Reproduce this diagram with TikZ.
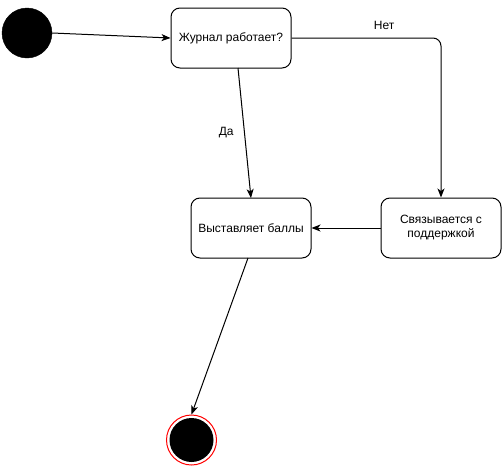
\documentclass[tikz,border=0pt]{standalone}
\usepackage{fontspec}
\setmainfont{Liberation Sans}
\usetikzlibrary{arrows.meta}
\begin{document}
\begin{tikzpicture}[x=1pt,y=-1pt,
  state/.style={draw,line width=1pt,rounded corners=9pt,minimum width=120pt,minimum height=60pt,align=center,font=\fontsize{12}{14}\selectfont,inner sep=2pt},
  conn/.style={line width=1pt,-{Stealth[length=9pt,width=7pt,inset=2.5pt]}},
  lbl/.style={font=\fontsize{12}{14}\selectfont}]
\useasboundingbox (0,0) rectangle (504,472);
\node[circle,fill=black,draw=black,minimum size=50pt,inner sep=0pt] (start) at (27,33) {};
\node[state] (q) at (231,38) {Журнал работает?};
\node[state] (score) at (251,228) {Выставляет баллы};
\node[state] (support) at (441,228) {Связывается с\\поддержкой};
\node[circle,draw=red,line width=1pt,fill=white,minimum size=50pt,inner sep=0pt] (end) at (191.5,440) {};
\node[circle,fill=black,minimum size=44pt,inner sep=0pt] (endin) at (end) {};
\coordinate (qs) at (238,68);
\coordinate (st) at (251,198);
\coordinate (sb) at (248,258);
\draw[conn] (start.east) -- (q.west);
\draw[conn] (qs) -- (st) node[lbl,midway,left=7pt] {Да};
\draw[conn,rounded corners=8pt] (q.east) -- (support.north |- q.east) node[lbl,pos=0.62,above=5pt] {Нет} -- (support.north);
\draw[conn] (support.west) -- (score.east);
\draw[conn] (sb) -- (end.north);
\end{tikzpicture}
\end{document}
